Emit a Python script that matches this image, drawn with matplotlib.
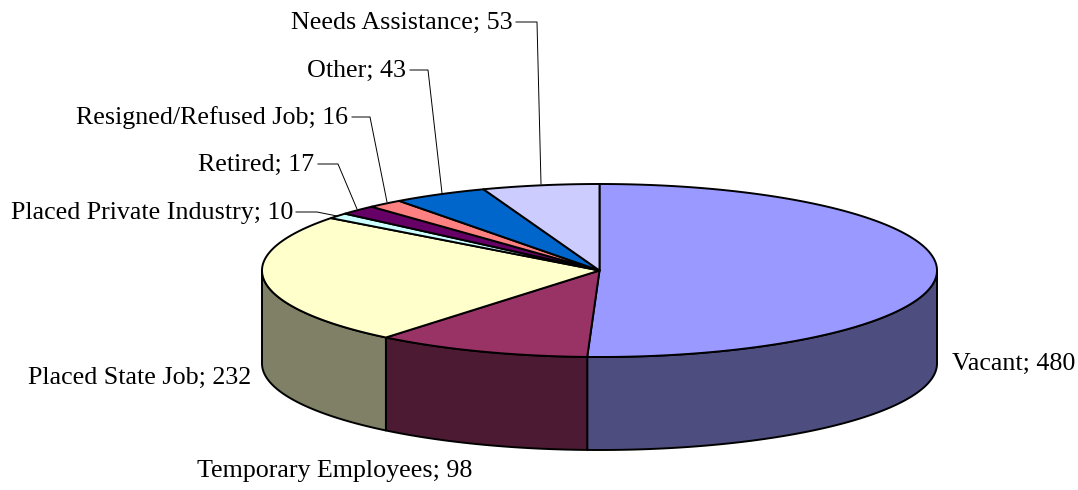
import numpy as np
import matplotlib
matplotlib.use("Agg")
import matplotlib.pyplot as plt
from matplotlib.patches import Polygon

categories = ["Vacant", "Temporary Employees", "Placed State Job", "Placed Private Industry",
              "Retired", "Resigned/Refused Job", "Other", "Needs Assistance"]
values = [480, 98, 232, 10, 17, 16, 43, 53]
top_colors = ["#9999FF", "#993366", "#FFFFCC", "#CCFFFF", "#660066", "#FF8080", "#0066CC", "#CCCCFF"]
side_colors = ["#4D4D80", "#4D1A33", "#808066", "#668080", "#330033", "#804040", "#003366", "#666680"]

W, H = 1078, 490
fig = plt.figure(figsize=(W / 100, H / 100), dpi=100)
ax = fig.add_axes([0, 0, 1, 1])
ax.set_xlim(0, W)
ax.set_ylim(H, 0)
ax.axis("off")

cx, cy, rx, ry, depth = 599.5, 270.5, 337.5, 86.5, 93
lw = 1.4

def pt(a, dy=0.0):
    t = np.radians(a)
    return cx + rx * np.cos(t), cy - ry * np.sin(t) + dy

vals = np.array(values, dtype=float)
cum = np.concatenate([[0], np.cumsum(vals)]) / vals.sum()
starts = 90 - 360 * cum[:-1]
ends = 90 - 360 * cum[1:]

# side faces (front half: 180..360 degrees, unwrapped)
for i in range(len(values)):
    s, e = starts[i], ends[i]
    for k in (-1, 0):
        lo, hi = 180 + 360 * k, 360 + 360 * k
        a, b = max(e, lo), min(s, hi)
        if b - a > 1e-6:
            ang = np.linspace(a, b, 100)
            top = [pt(x) for x in ang]
            bot = [pt(x, depth) for x in ang[::-1]]
            ax.add_patch(Polygon(top + bot, closed=True, facecolor=side_colors[i],
                                 edgecolor="black", lw=lw, joinstyle="round", zorder=2))

# top faces
for i in range(len(values)):
    ang = np.linspace(starts[i], ends[i], max(int(abs(starts[i] - ends[i])) * 2, 4))
    poly = [(cx, cy)] + [pt(x) for x in ang]
    ax.add_patch(Polygon(poly, closed=True, facecolor=top_colors[i], edgecolor="black",
                         lw=lw, joinstyle="round", zorder=3))

font = dict(family="Liberation Serif", fontsize=18.7, color="black")

labels = [f"{c}; {v}" for c, v in zip(categories, values)]
# label positions (x, y, ha)
label_pos = [
    (952, 364, "left"),
    (335, 471, "center"),
    (251, 378, "right"),
    (293, 213, "right"),
    (314, 165, "right"),
    (348, 118, "right"),
    (406, 71, "right"),
    (513, 23, "right"),
]
for lab, (x, y, ha) in zip(labels, label_pos):
    ax.text(x, y, lab, ha=ha, va="center", zorder=5, **font)

# leader lines for small slices
leaders = [
    [(296, 212), (317, 212), (337, 216)],
    [(318, 164), (338, 164), (357, 209)],
    [(352, 117), (370, 117), (387, 202)],
    [(410, 70), (428, 70), (442, 193)],
    [(516, 22), (537, 22), (541, 184)],
]
for pts in leaders:
    xs, ys = zip(*pts)
    ax.plot(xs, ys, color="black", lw=0.7, zorder=4)

fig.savefig("out.png", dpi=100)
